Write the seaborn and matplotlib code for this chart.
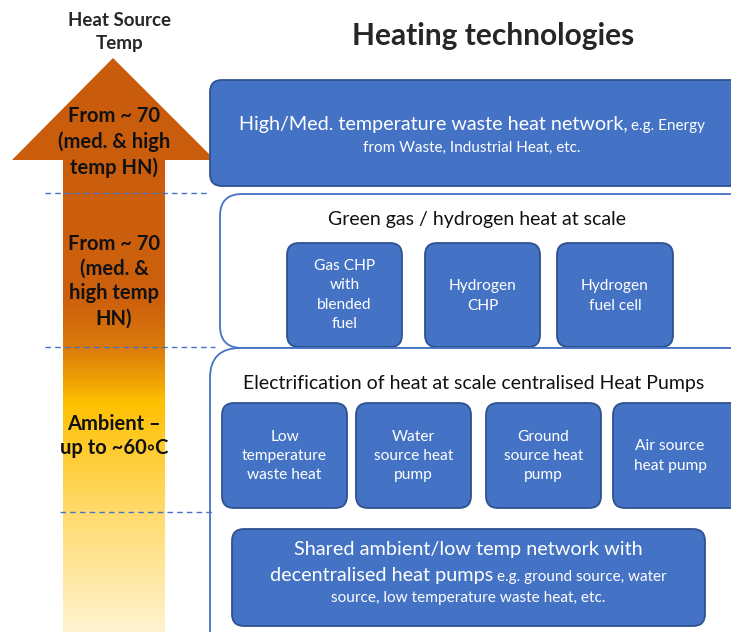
import numpy as np
import matplotlib.pyplot as plt
import seaborn as sns
from matplotlib.patches import FancyBboxPatch, Polygon
from matplotlib.colors import LinearSegmentedColormap

# -------------------------------------------------------------------
# Diagram text
# -------------------------------------------------------------------
title = "Heating technologies"
axis_title = "Heat Source\nTemp"
temp_bands = [
    "From ~ 70\n(med. & high\ntemp HN)",
    "From ~ 70\n(med. &\nhigh temp\nHN)",
    "Ambient –\nup to ~60◦C",
]
high_net_main = "High/Med. temperature waste heat network,"
high_net_small = "e.g. Energy"
high_net_line2 = "from Waste, Industrial Heat, etc."
gas_title = "Green gas / hydrogen heat at scale"
gas_techs = ["Gas CHP\nwith\nblended\nfuel", "Hydrogen\nCHP", "Hydrogen\nfuel cell"]
hp_title = "Electrification of heat at scale centralised Heat Pumps"
hp_techs = ["Low\ntemperature\nwaste heat", "Water\nsource heat\npump",
            "Ground\nsource heat\npump", "Air source\nheat pump"]
shared_line1 = "Shared ambient/low temp network with"
shared_main = "decentralised heat pumps"
shared_small = "e.g. ground source, water"
shared_line3 = "source, low temperature waste heat, etc."

sns.set_theme(style="white")
plt.rcParams['font.family'] = ['Lato', 'DejaVu Sans']

BLUE = "#4472C4"
EDGE = "#2F528F"

fig = plt.figure(figsize=(7.31, 6.32), dpi=100)
ax = fig.add_axes([0, 0, 1, 1])
ax.set_xlim(0, 731)
ax.set_ylim(632, 0)
ax.axis('off')


def box(x0, y0, x1, y1, filled=True, r=12):
    p = FancyBboxPatch((x0, y0), x1 - x0, y1 - y0,
                       boxstyle=f"round,pad=0,rounding_size={r}",
                       fc=BLUE if filled else "white",
                       ec=EDGE if filled else BLUE, lw=1.3)
    ax.add_patch(p)


def mixed_line(cx, y, parts, color="white", gap=4):
    texts = [ax.text(0, y, s, fontsize=fs, color=color, ha='left', va='baseline')
             for s, fs in parts]
    r = fig.canvas.get_renderer()
    widths = [t.get_window_extent(r).width for t in texts]
    x = cx - (sum(widths) + gap * (len(texts) - 1)) / 2
    for t, w in zip(texts, widths):
        t.set_x(x)
        x += w + gap


# -------------------------------------------------------------------
# Arrow with gradient
# -------------------------------------------------------------------
arrow = Polygon([(113, 58), (215, 160), (165, 160), (165, 632),
                 (63, 632), (63, 160), (12, 160)], closed=True,
                fc='none', ec='none')
ax.add_patch(arrow)
cmap = LinearSegmentedColormap.from_list("heat", [
    (0.0, "#C95C0C"), (0.42, "#CD600C"), (0.50, "#DA780C"),
    (0.56, "#EDA005"), (0.60, "#FFC000"), (0.78, "#FFD966"),
    (1.0, "#FFF3CF")])
grad = np.linspace(0, 1, 400).reshape(-1, 1)
im = ax.imshow(grad, cmap=cmap, aspect='auto', extent=(10, 220, 632, 58),
               interpolation='bilinear')
im.set_clip_path(arrow)

ax.text(120, 32, axis_title, ha='center', va='center', fontsize=13.5,
        fontweight='bold', linespacing=1.5)
band_y = [142, 281, 436]
for s, y in zip(temp_bands, band_y):
    ax.text(114, y, s, ha='center', va='center', fontsize=14.5,
            fontweight='bold', linespacing=1.3, color='#111111')

for y, x0, x1 in [(193, 45, 210), (347, 45, 215), (512, 60, 215)]:
    ax.plot([x0, x1], [y, y], ls=(0, (4, 3)), color=BLUE, lw=1)

ax.text(493, 36, title, ha='center', va='center', fontsize=21.5, fontweight='bold')

# -------------------------------------------------------------------
# High / Med temp network
# -------------------------------------------------------------------
box(210, 80, 760, 186)
mixed_line(472, 130, [(high_net_main, 14.2), (high_net_small, 11)])
ax.text(472, 152, high_net_line2, ha='center', va='baseline', fontsize=11,
        color='white')

# -------------------------------------------------------------------
# Green gas / hydrogen
# -------------------------------------------------------------------
box(220, 194, 760, 348, filled=False, r=22)
ax.text(477, 220, gas_title, ha='center', va='center', fontsize=14,
        color='#111111')
for s, (x0, x1) in zip(gas_techs, [(287, 402), (425, 540), (557, 673)]):
    box(x0, 243, x1, 347)
    ax.text((x0 + x1) / 2, 295 if s.count('\n') > 1 else 296, s,
            ha='center', va='center', fontsize=11.2, color='white',
            linespacing=1.47)

# -------------------------------------------------------------------
# Electrification
# -------------------------------------------------------------------
box(210, 348, 760, 660, filled=False, r=30)
ax.text(474, 383, hp_title, ha='center', va='center', fontsize=14,
        color='#111111')
for s, (x0, x1) in zip(hp_techs, [(222, 347), (356, 471), (486, 601), (613, 745)]):
    box(x0, 403, x1, 508)
    ax.text((x0 + x1) / 2 if x1 < 731 else 670, 456, s, ha='center', va='center',
            fontsize=11.2, color='white', linespacing=1.47)

box(232, 529, 705, 626)
ax.text(468, 555, shared_line1, ha='center', va='baseline', fontsize=14.3,
        color='white')
mixed_line(468, 581, [(shared_main, 14.3), (shared_small, 11)])
ax.text(468, 602, shared_line3, ha='center', va='baseline', fontsize=11.1,
        color='white')

fig.savefig("out.png", dpi=100)
